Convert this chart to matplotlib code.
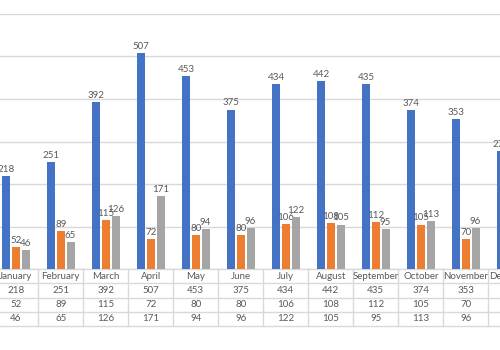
import numpy as np
import matplotlib
matplotlib.use("Agg")
import matplotlib.pyplot as plt
from matplotlib.transforms import blended_transform_factory

plt.rcParams['font.family'] = ['Lato', 'DejaVu Sans']

# 数据
months = ["January", "February", "March", "April", "May", "June", "July",
          "August", "September", "October", "November", "December"]
series_a = [218, 251, 392, 507, 453, 375, 434, 442, 435, 374, 353, 278]
series_b = [52, 89, 115, 72, 80, 80, 106, 108, 112, 105, 70, 75]
series_c = [46, 65, 126, 171, 94, 96, 122, 105, 95, 113, 96, 90]

colors = ["#4472C4", "#ED7D31", "#A5A5A5"]
text_color = "#595959"
line_color = "#D9D9D9"

W, H = 500, 350
fig = plt.figure(figsize=(5, 3.5), dpi=100)

# 绘图区域(左右两边被裁掉一部分)
x_left, x_right = -6.7, 533.3
y_top, y_bottom = 13.7, 269.3
ax = fig.add_axes([x_left / W, 1 - y_bottom / H,
                   (x_right - x_left) / W, (y_bottom - y_top) / H])

x = np.arange(len(months))
width = 0.178
offset = 0.218
for i, vals in enumerate([series_a, series_b, series_c]):
    bars = ax.bar(x + (i - 1) * offset, vals, width, color=colors[i], zorder=3)
    for b, v in zip(bars, vals):
        ax.annotate(str(v), (b.get_x() + b.get_width() / 2, v),
                    xytext=(0, 1.5), textcoords="offset points",
                    ha="center", va="bottom", fontsize=7, color=text_color,
                    annotation_clip=False)

ax.set_xlim(-0.5, len(months) - 0.5)
ax.set_ylim(0, 600)
ax.set_yticks(range(0, 700, 100))
ax.yaxis.grid(True, color=line_color, linewidth=1, zorder=0)
ax.set_xticks([])
ax.tick_params(left=False, labelleft=False)
for s in ax.spines.values():
    s.set_visible(False)

# 数据表
trans = blended_transform_factory(ax.transData, fig.transFigure)
row_h = 14.17
rows = [months, series_a, series_b, series_c]
n_rows = len(rows)
for r in range(n_rows + 1):
    yy = 1 - (y_bottom + r * row_h) / H
    ax.plot([-1.5, len(months) - 0.5], [yy, yy], color=line_color, lw=1,
            transform=trans, clip_on=False)
for c in range(len(months) + 1):
    ax.plot([c - 0.5, c - 0.5],
            [1 - y_bottom / H, 1 - (y_bottom + n_rows * row_h) / H],
            color=line_color, lw=1, transform=trans, clip_on=False)
for r, row in enumerate(rows):
    yc = 1 - (y_bottom + (r + 0.5) * row_h) / H
    for c, val in enumerate(row):
        ax.text(c, yc, str(val), ha="center", va="center", fontsize=7,
                color=text_color, transform=trans, clip_on=False)

fig.savefig("out.png", dpi=100, facecolor="white")
